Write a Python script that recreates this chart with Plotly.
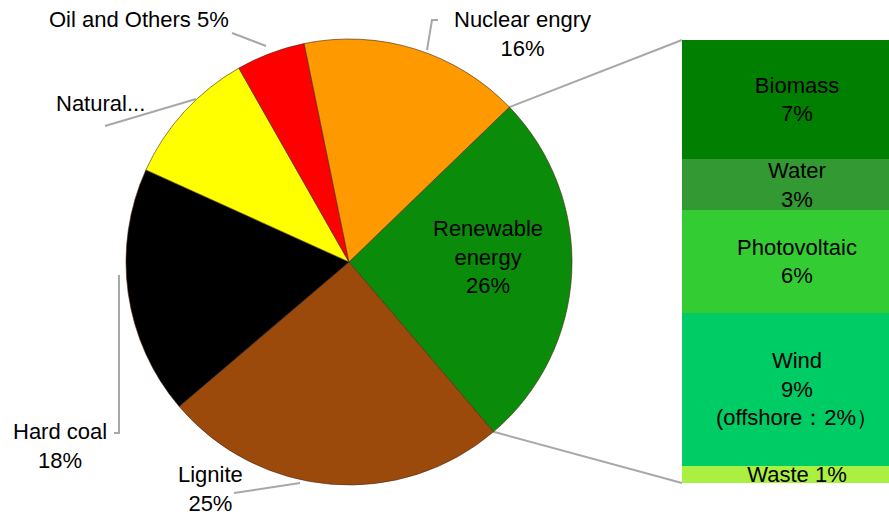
import math
import plotly.graph_objects as go

# ---- data ----
pie_labels = ["Renewable energy", "Lignite", "Hard coal", "Natural gas", "Oil and Others", "Nuclear engry"]
pie_values = [26, 25, 18, 10, 5, 16]
pie_colors = ["#0a8c0a", "#9c4a0c", "#000000", "#ffff00", "#ff0000", "#ff9900"]

bar_labels = ["Waste", "Wind", "Photovoltaic", "Water", "Biomass"]
bar_values = [1, 9, 6, 3, 7]
bar_colors = ["#aaf040", "#00cc66", "#33cc33", "#339933", "#007f00"]
bar_texts = ["Waste 1%", "Wind<br>9%<br>(offshore：2%）", "Photovoltaic<br>6%", "Water<br>3%", "Biomass<br>7%"]

# ---- layout constants ----
W, H = 889, 516
CX, CY, R = 349, 262, 223
ROT = 46
FONT = "Liberation Sans, Arial, sans-serif"
FS = 22
GRAY = "#a8a8a8"

def px(x, y):
    return x / W, 1 - y / H

fig = go.Figure()

fig.add_trace(go.Pie(
    labels=pie_labels, values=pie_values, sort=False, direction="clockwise",
    rotation=ROT, marker=dict(colors=pie_colors, line=dict(color="rgba(70,40,20,0.6)", width=1)),
    textinfo="none", hoverinfo="label+percent", showlegend=False,
    domain=dict(x=[(CX - R) / W, (CX + R) / W], y=[(H - CY - R) / H, (H - CY + R) / H]),
))

bar_top, bar_bot, bar_left = 40, 483, 682
for lab, val, col, txt in zip(bar_labels, bar_values, bar_colors, bar_texts):
    fig.add_trace(go.Bar(
        x=[0], y=[val], name=lab, marker=dict(color=col, line=dict(width=0)),
        text=[txt], textposition="inside", insidetextanchor="middle",
        textfont=dict(family=FONT, size=FS, color="black"), width=1,
        xaxis="x", yaxis="y", showlegend=False, constraintext="none",
    ))

fig.update_layout(
    width=W, height=H, margin=dict(l=0, r=0, t=0, b=0),
    paper_bgcolor="white", plot_bgcolor="white", barmode="stack",
    xaxis=dict(domain=[bar_left / W, 1], range=[-0.5, 0.4], visible=False, fixedrange=True),
    yaxis=dict(domain=[(H - bar_bot) / H, (H - bar_top) / H], range=[0, sum(bar_values)], visible=False),
    uniformtext=dict(minsize=FS, mode="show"),
)

# connector lines from renewable slice boundaries to the bar
total = sum(pie_values)
a0 = math.radians(ROT)
a1 = math.radians(ROT + 360 * pie_values[0] / total)
for ang, by in [(a0, bar_top), (a1, bar_bot)]:
    x0, y0 = px(CX + R * math.sin(ang), CY - R * math.cos(ang))
    x1, y1 = px(bar_left, by)
    fig.add_shape(type="line", xref="paper", yref="paper", x0=x0, y0=y0, x1=x1, y1=y1,
                  line=dict(color=GRAY, width=2), layer="below")

# leader lines (pixel paths)
leaders = [
    [(232, 33), (266, 46)],                 # Oil
    [(438, 20), (432, 20), (427, 50)],      # Nuclear
    [(105, 126), (196, 99)],                # Natural gas
    [(114, 433), (119, 433), (119, 275)],   # Hard coal
    [(234, 493), (300, 483)],               # Lignite
]
for pts in leaders:
    path = "M " + " L ".join(f"{px(x, y)[0]},{px(x, y)[1]}" for x, y in pts)
    fig.add_shape(type="path", xref="paper", yref="paper", path=path,
                  line=dict(color=GRAY, width=2))

labels_pos = [
    ("Oil and Others 5%", 139, 20),
    ("Nuclear engry<br>16%", 522, 34),
    ("Natural...", 100, 103),
    ("Hard coal<br>18%", 60, 446),
    ("Lignite<br>25%", 210, 489),
    ("Renewable<br>energy<br>26%", 488, 257),
]
for txt, x, y in labels_pos:
    xp, yp = px(x, y)
    fig.add_annotation(text=txt, x=xp, y=yp, xref="paper", yref="paper", showarrow=False,
                       xanchor="center", yanchor="middle", align="center",
                       font=dict(family=FONT, size=FS, color="black"))

fig.write_html("out.html", config={"displayModeBar": False},
               post_script="document.body.style.margin='0';document.body.style.overflow='hidden';")
